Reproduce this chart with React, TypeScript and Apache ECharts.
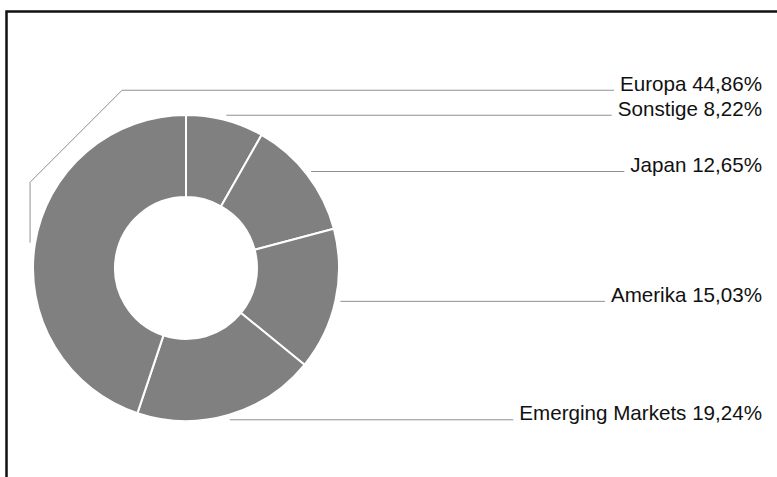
import React, { useEffect, useRef } from 'react';
import * as echarts from 'echarts';

const categories = ['Sonstige', 'Japan', 'Amerika', 'Emerging Markets', 'Europa'];
const values = [8.22, 12.65, 15.03, 19.24, 44.86];

const W = 777;
const H = 477;
const CX = 186;
const CY = 268;
const R0 = 71;
const R = 153;
const GAP = 5;
const LABEL_RIGHT = 762;
const LINE_GAP = 6;
const ROW = 25;
const BEND = 92;
const FONT = 20.6;

export default function App() {
  const ref = useRef<HTMLDivElement>(null);
  useEffect(() => {
    const chart = echarts.init(ref.current!, null, { renderer: 'svg', width: W, height: H });
    const rightYs: Record<number, number> = {};
    const option: any = {
      animation: false,
      backgroundColor: '#ffffff',
      graphic: [
        {
          type: 'rect',
          silent: true,
          z: 100,
          shape: { x: 6.5, y: 11.5, width: 900, height: 600 },
          style: { fill: 'none', stroke: '#111111', lineWidth: 2.5 },
        },
      ],
      series: [
        {
          type: 'pie',
          center: [CX, CY],
          radius: [R0, R],
          startAngle: 90,
          clockwise: true,
          avoidLabelOverlap: false,
          data: categories.map((n, i) => ({ name: n, value: values[i] })),
          itemStyle: { color: '#808080', borderColor: '#ffffff', borderWidth: 2 },
          emphasis: { disabled: true },
          label: {
            show: true,
            position: 'outside',
            formatter: (p: any) => `${p.name} ${Number(p.value).toFixed(2).replace('.', ',')}%`,
            fontSize: FONT,
            fontFamily: '"Liberation Sans", Arial, Helvetica, sans-serif',
            color: '#111111',
          },
          labelLine: {
            show: true,
            length: GAP,
            length2: 10,
            smooth: false,
            lineStyle: { color: '#909090', width: 1 },
          },
          labelLayout: (params: any) => {
            const pts = params.labelLinePoints;
            const p0 = pts && pts[0];
            if (!p0) return {};
            const dx = p0[0] - CX;
            const dy = p0[1] - CY;
            const len = Math.hypot(dx, dy) || 1;
            const ax = CX + (dx / len) * (R + GAP);
            const ay = CY + (dy / len) * (R + GAP);
            const w = params.labelRect ? params.labelRect.width : 0;
            const lineEnd = LABEL_RIGHT - w - LINE_GAP;
            let ly: number;
            let points: number[][];
            if (ax >= CX) {
              ly = ay;
              rightYs[params.dataIndex] = ly;
              points = [[ax, ay], [ax, ay], [lineEnd, ly]];
            } else {
              const ys = Object.values(rightYs);
              const top = ys.length ? Math.min(...ys) : CY - R;
              ly = top - ROW;
              points = [[ax, ay], [ax, ly + BEND], [ax + BEND, ly], [lineEnd, ly]];
            }
            return {
              x: LABEL_RIGHT,
              y: ly - 0.3465 * FONT,
              align: 'right',
              verticalAlign: 'middle',
              labelLinePoints: points,
            };
          },
        },
      ],
    };
    chart.setOption(option);
    return () => {
      chart.dispose();
    };
  }, []);
  return (
    <div
      ref={ref}
      style={{ position: 'absolute', left: 0, top: 0, width: W, height: H }}
    />
  );
}
